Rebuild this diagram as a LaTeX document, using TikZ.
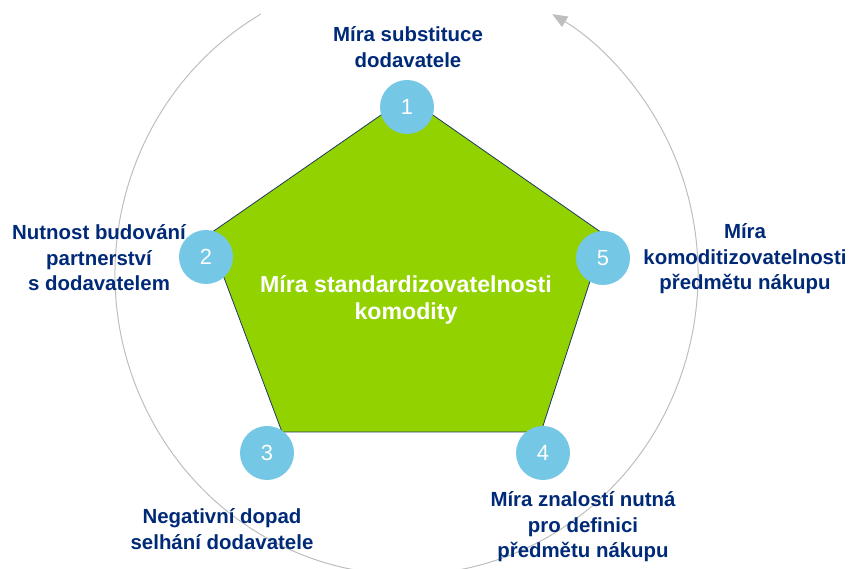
\documentclass[tikz,border=0pt]{standalone}
\usepackage{fontspec}
\setmainfont{Liberation Sans}
\usepackage{xcolor}
\usepackage{tikz}
\usetikzlibrary{arrows.meta,positioning,calc}

\definecolor{navy}{RGB}{0,42,120}
\definecolor{edgeblue}{RGB}{31,56,100}
\definecolor{leaf}{RGB}{146,210,0}
\definecolor{sky}{RGB}{117,199,230}
\definecolor{ring}{RGB}{190,190,190}

\tikzset{
    numdot/.style={circle, fill=sky, minimum size=54bp, inner sep=0pt, text=white, font=\fontsize{22}{22}\selectfont},
    caption/.style={text=navy, align=center, font=\bfseries\fontsize{20.5}{25.5}\selectfont},
}

\begin{document}
\begin{tikzpicture}[x=1bp,y=1bp]
    \useasboundingbox (0,0) rectangle (852,569);

    % ring round the pentagon
    \draw[ring, line width=1bp, -{Triangle[length=15bp,width=12bp]}]
        (406.5,294.7) ++(120:291.5 and 300.4)
        arc[start angle=120, end angle=420, x radius=291.5, y radius=300.4];

    % pentagon
    \coordinate (p1) at (407,472);
    \coordinate (p2) at (208,334);
    \coordinate (p3) at (282,137);
    \coordinate (p4) at (541,137);
    \coordinate (p5) at (605,334);
    \draw[edgeblue, fill=leaf, line width=0.8bp] (p1) -- (p2) -- (p3) -- (p4) -- (p5) -- cycle;
    \node[caption, text=white, font=\bfseries\fontsize{23.2}{26.5}\selectfont] (core) at (406,269) {Míra standardizovatelnosti\\komodity};

    % numbered dots
    \node[numdot] (n1) at (407,462) {1};
    \node[numdot] (n2) at (206,312) {2};
    \node[numdot] (n3) at (267,116) {3};
    \node[numdot] (n4) at (543,116) {4};
    \node[numdot] (n5) at (603,311) {5};

    % labels
    \node[caption] (t1) at (408,522) {Míra substituce\\dodavatele};
    \node[caption] (t2) at (99,311) {Nutnost budování\\partnerství\\s dodavatelem};
    \node[caption] (t3) at (222,40) {Negativní dopad\\selhání dodavatele};
    \node[caption] (t4) at (583,42) {Míra znalostí nutná\\pro definici\\předmětu nákupu};
    \node[caption] (t5) at (745,310) {Míra\\komoditizovatelnosti\\předmětu nákupu};
\end{tikzpicture}
\end{document}
